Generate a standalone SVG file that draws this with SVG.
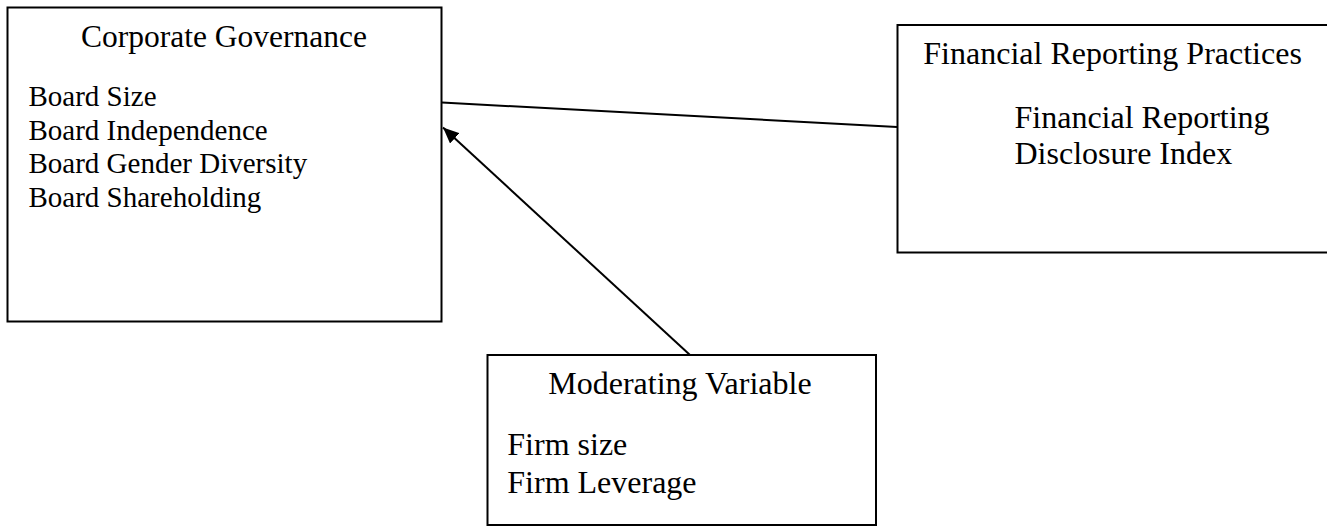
<svg xmlns="http://www.w3.org/2000/svg" width="1327" height="527" viewBox="0 0 1327 527">
  <style>
    .box { fill: #ffffff; stroke: #000000; stroke-width: 2; }
    .t { font-family: "Liberation Serif", "Times New Roman", serif; fill: #000000; }
    .h { font-size: 31.5px; }
    .b { font-size: 32px; }
    .s { font-size: 29px; }
    .edge { stroke: #000000; stroke-width: 2; fill: none; }
  </style>
  <defs>
    <marker id="arrow" viewBox="0 0 10 10" refX="10" refY="5" markerWidth="8" markerHeight="8" markerUnits="userSpaceOnUse" orient="auto">
      <path d="M0,0 L10,5 L0,10 z" fill="#000000"/>
    </marker>
    <marker id="head" viewBox="0 0 16 14" refX="16" refY="7" markerWidth="16" markerHeight="14" markerUnits="userSpaceOnUse" orient="auto">
      <path d="M0,0 L16,7 L0,14 z" fill="#000000"/>
    </marker>
  </defs>
  <rect width="1327" height="527" fill="#ffffff"/>

  <g id="corporate-governance">
    <rect class="box" x="7.5" y="7.5" width="434" height="314"/>
    <text class="t h" x="81" y="47">Corporate Governance</text>
    <text class="t s" x="28.5" y="106">Board Size</text>
    <text class="t s" x="28.5" y="139.5">Board Independence</text>
    <text class="t s" x="28.5" y="173">Board Gender Diversity</text>
    <text class="t s" x="28.5" y="206.5">Board Shareholding</text>
  </g>

  <g id="financial-reporting">
    <rect class="box" x="897.5" y="25" width="440" height="227.5"/>
    <text class="t b" x="923.3" y="63.5">Financial Reporting Practices</text>
    <text class="t b" x="1014.5" y="127.5">Financial Reporting</text>
    <text class="t b" x="1014.5" y="164">Disclosure Index</text>
  </g>

  <g id="moderating-variable">
    <rect class="box" x="487.5" y="355" width="388.5" height="170"/>
    <text class="t b" x="548.3" y="394">Moderating Variable</text>
    <text class="t b" x="507.3" y="455">Firm size</text>
    <text class="t b" x="507.3" y="493">Firm Leverage</text>
  </g>

  <g id="connectors">
    <line class="edge" x1="442" y1="102.5" x2="897" y2="127"/>
    <line class="edge" x1="690" y1="355" x2="443" y2="127.5" marker-end="url(#head)"/>
  </g>
</svg>
